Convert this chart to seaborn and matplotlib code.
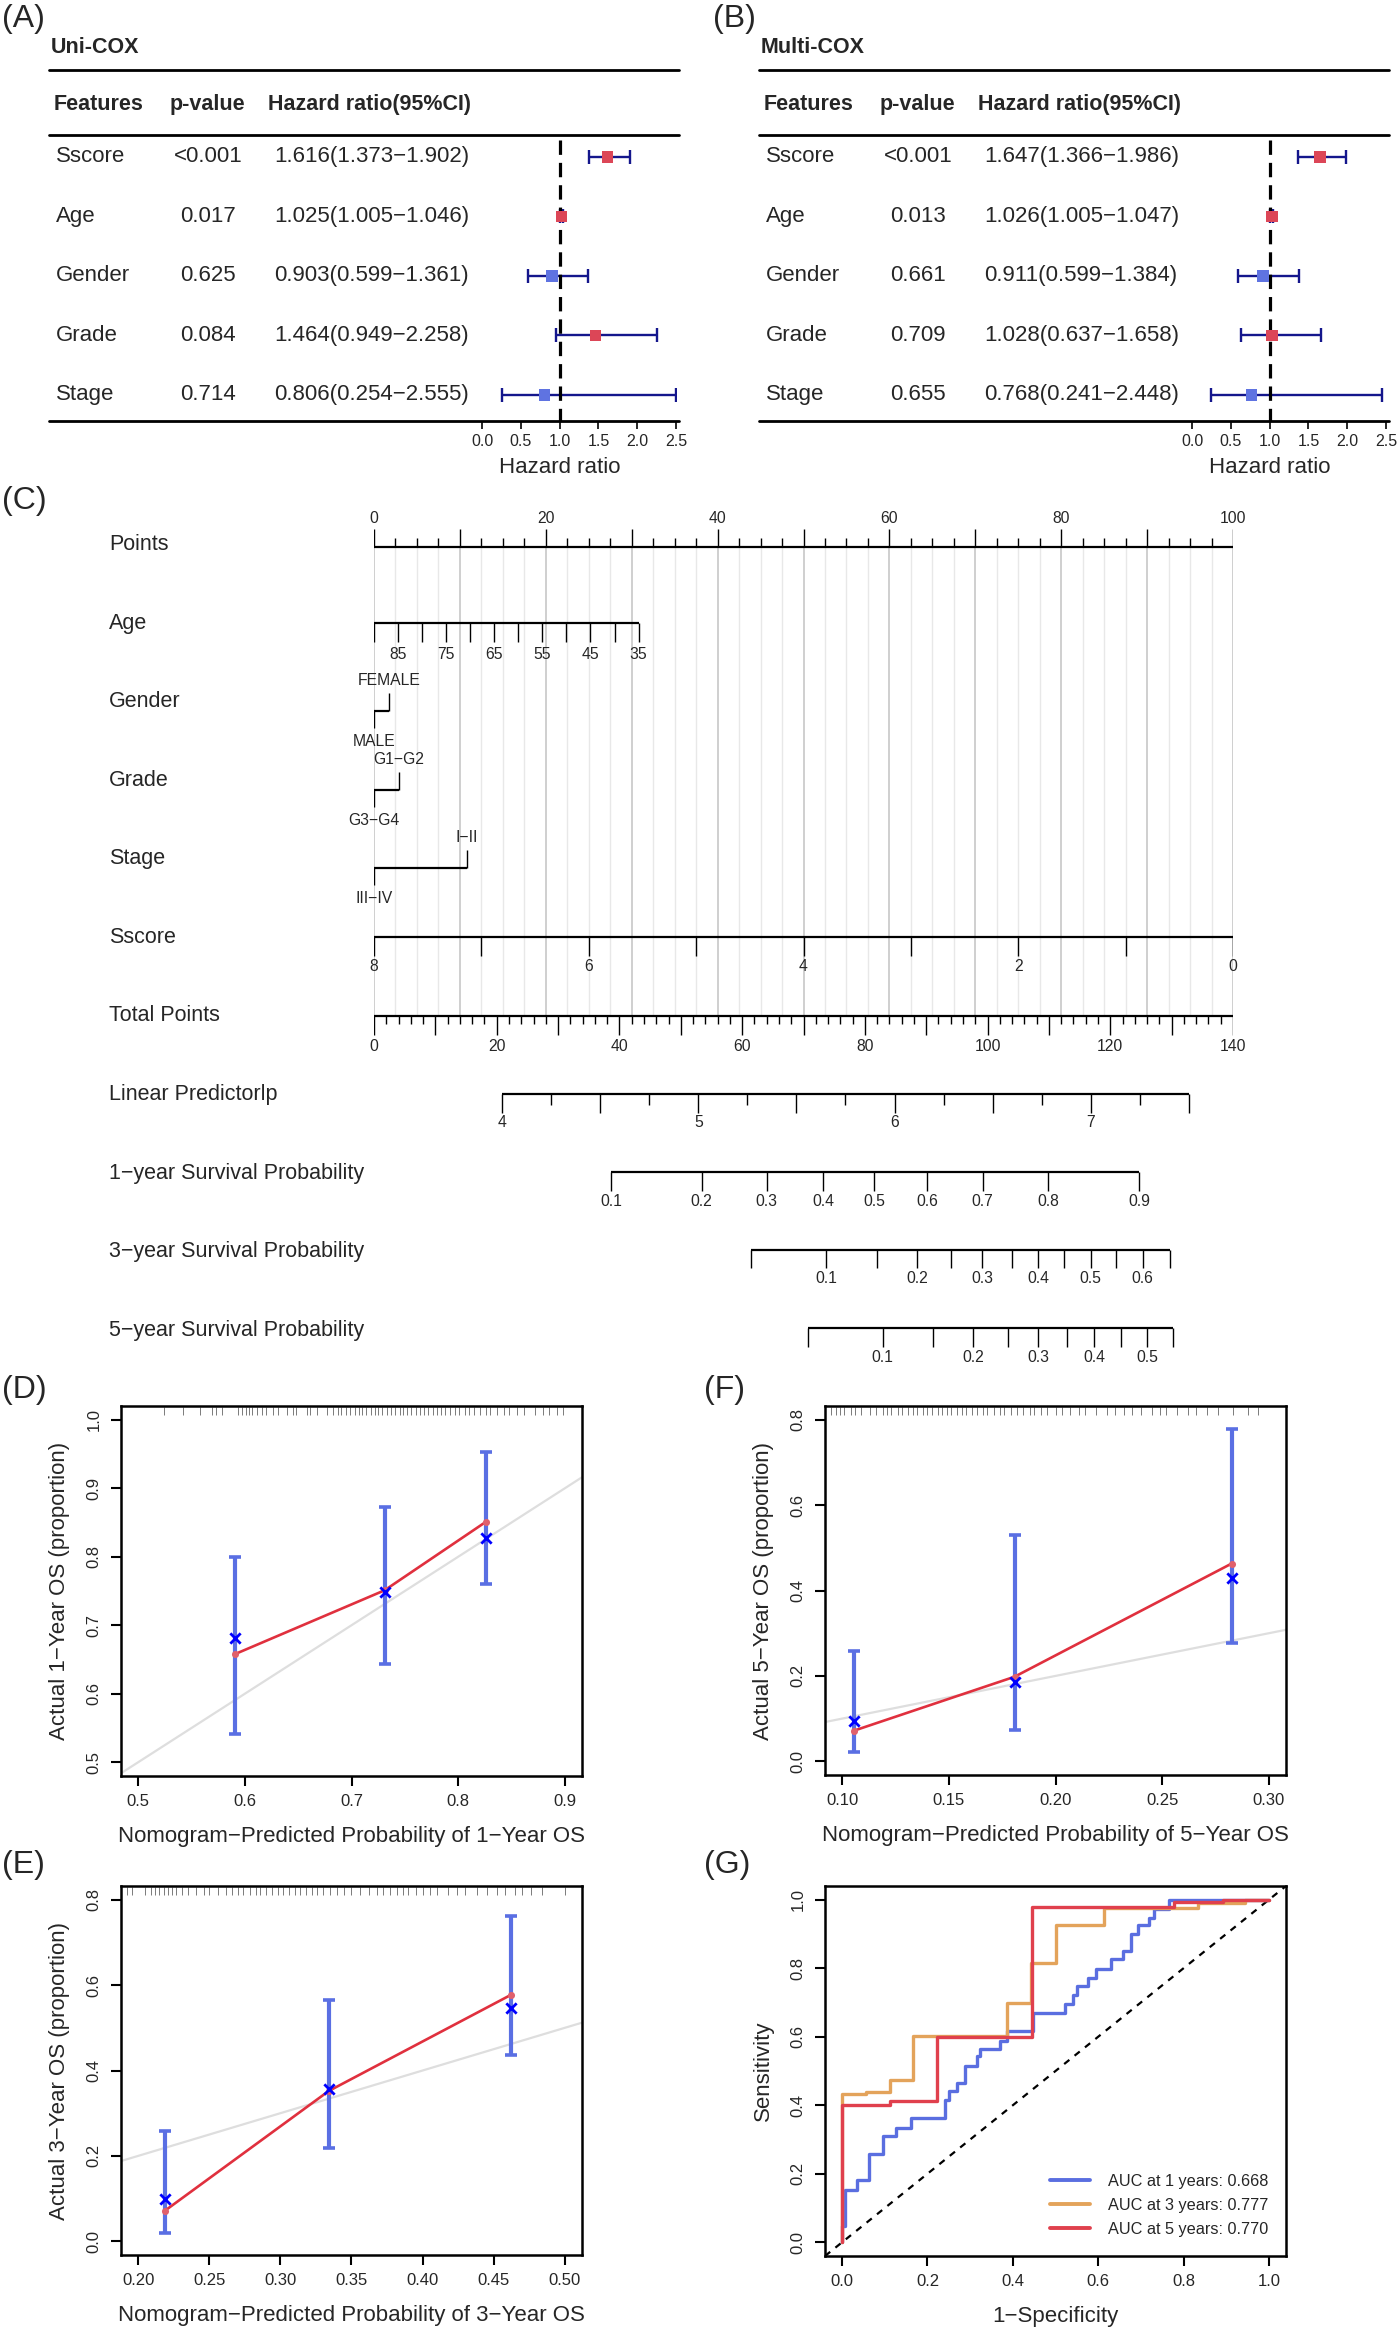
import numpy as np
import pandas as pd
import matplotlib
matplotlib.use("Agg")
import matplotlib.pyplot as plt
import seaborn as sns

# ---------------------------------------------------------------- data
features = ["Sscore", "Age", "Gender", "Grade", "Stage"]
uni_p = ["<0.001", "0.017", "0.625", "0.084", "0.714"]
uni_hr = [1.616, 1.025, 0.903, 1.464, 0.806]
uni_lo = [1.373, 1.005, 0.599, 0.949, 0.254]
uni_hi = [1.902, 1.046, 1.361, 2.258, 2.555]
multi_p = ["<0.001", "0.013", "0.661", "0.709", "0.655"]
multi_hr = [1.647, 1.026, 0.911, 1.028, 0.768]
multi_lo = [1.366, 1.005, 0.599, 0.637, 0.241]
multi_hi = [1.986, 1.047, 1.384, 1.658, 2.448]
hr_ticks = [0.0, 0.5, 1.0, 1.5, 2.0, 2.5]

nomo_rows = ["Points", "Age", "Gender", "Grade", "Stage", "Sscore", "Total Points",
             "Linear Predictorlp", "1\u2212year Survival Probability",
             "3\u2212year Survival Probability", "5\u2212year Survival Probability"]
points_labels = [0, 20, 40, 60, 80, 100]
age_ticks = [90, 85, 80, 75, 70, 65, 60, 55, 50, 45, 40, 35]
age_labels = ["", "85", "", "75", "", "65", "", "55", "", "45", "", "35"]
age_ends = [35, 90]
age_pts_ends = [30.8, 0.0]
gender_levels = ["MALE", "FEMALE"]
gender_pts = [0.0, 1.8]
grade_levels = ["G3\u2212G4", "G1\u2212G2"]
grade_pts = [0.0, 2.9]
stage_levels = ["III\u2212IV", "I\u2212II"]
stage_pts = [0.0, 10.8]
sscore_ticks = [8, 7, 6, 5, 4, 3, 2, 1, 0]
sscore_labels = ["8", "", "6", "", "4", "", "2", "", "0"]
sscore_ends = [0, 8]
sscore_pts_ends = [100.0, 0.0]
total_max = 140
total_labels = [0, 20, 40, 60, 80, 100, 120, 140]
lp_ticks = [4.0, 4.25, 4.5, 4.75, 5.0, 5.25, 5.5, 5.75, 6.0, 6.25, 6.5, 6.75, 7.0, 7.25, 7.5]
lp_ends = [4.0, 7.0]
lp_total_ends = [20.9, 116.8]
s1_vals = [0.1, 0.2, 0.3, 0.4, 0.5, 0.6, 0.7, 0.8, 0.9]
s1_total = [38.6, 53.4, 64.0, 73.2, 81.5, 90.1, 99.2, 109.9, 124.7]
s1_labels = ["0.1", "0.2", "0.3", "0.4", "0.5", "0.6", "0.7", "0.8", "0.9"]
s3_vals = [0.05, 0.1, 0.15, 0.2, 0.25, 0.3, 0.35, 0.4, 0.45, 0.5, 0.55, 0.6, 0.65]
s3_total = [61.5, 73.7, 81.9, 88.5, 94.1, 99.1, 103.9, 108.2, 112.5, 116.8, 121.0, 125.3, 129.7]
s3_labels = ["", "0.1", "", "0.2", "", "0.3", "", "0.4", "", "0.5", "", "0.6", ""]
s5_vals = [0.05, 0.1, 0.15, 0.2, 0.25, 0.3, 0.35, 0.4, 0.45, 0.5, 0.55]
s5_total = [70.7, 82.9, 91.1, 97.7, 103.3, 108.3, 113.0, 117.4, 121.7, 126.0, 130.2]
s5_labels = ["", "0.1", "", "0.2", "", "0.3", "", "0.4", "", "0.5", ""]

# calibration 1-year (D)
c1_pred = [0.591, 0.731, 0.826]
c1_obs = [0.681, 0.749, 0.827]
c1_lo = [0.541, 0.643, 0.760]
c1_hi = [0.800, 0.873, 0.953]
c1_app = [0.658, 0.751, 0.851]
c1_rug = [0.524, 0.542, 0.558, 0.569, 0.573, 0.579, 0.594, 0.597, 0.601, 0.604, 0.607,
          0.611, 0.616, 0.620, 0.626, 0.631, 0.640, 0.645, 0.648, 0.658, 0.661, 0.668,
          0.677, 0.683, 0.687, 0.690, 0.695, 0.699, 0.703, 0.707, 0.710, 0.714, 0.718,
          0.722, 0.725, 0.729, 0.733, 0.737, 0.741, 0.745, 0.748, 0.752, 0.756, 0.760,
          0.764, 0.768, 0.772, 0.776, 0.780, 0.784, 0.788, 0.792, 0.797, 0.801, 0.806,
          0.810, 0.815, 0.820, 0.826, 0.830, 0.836, 0.843, 0.848, 0.855, 0.862, 0.872,
          0.879, 0.885, 0.893, 0.898]
# calibration 5-year (F)
c5_pred = [0.1057, 0.1808, 0.2825]
c5_obs = [0.094, 0.186, 0.429]
c5_lo = [0.021, 0.073, 0.276]
c5_hi = [0.258, 0.529, 0.777]
c5_app = [0.072, 0.198, 0.463]
c5_rug = [0.095, 0.097, 0.099, 0.101, 0.104, 0.106, 0.109, 0.113, 0.116, 0.119, 0.121,
          0.123, 0.126, 0.128, 0.131, 0.133, 0.135, 0.138, 0.140, 0.142, 0.145, 0.147,
          0.149, 0.151, 0.154, 0.156, 0.158, 0.161, 0.163, 0.166, 0.168, 0.171, 0.174,
          0.176, 0.179, 0.182, 0.185, 0.188, 0.190, 0.193, 0.196, 0.200, 0.203, 0.207,
          0.211, 0.214, 0.219, 0.224, 0.228, 0.232, 0.236, 0.240, 0.245, 0.249, 0.252,
          0.257, 0.262, 0.266, 0.271, 0.276, 0.283, 0.290, 0.295, 0.308]
# calibration 3-year (E)
c3_pred = [0.219, 0.334, 0.462]
c3_obs = [0.098, 0.357, 0.547]
c3_lo = [0.0195, 0.2185, 0.437]
c3_hi = [0.258, 0.564, 0.762]
c3_app = [0.072, 0.352, 0.577]
c3_rug = [0.192, 0.196, 0.205, 0.209, 0.212, 0.215, 0.218, 0.221, 0.224, 0.227, 0.231,
          0.235, 0.241, 0.246, 0.250, 0.256, 0.262, 0.266, 0.270, 0.274, 0.279, 0.283,
          0.286, 0.290, 0.294, 0.298, 0.302, 0.306, 0.310, 0.314, 0.318, 0.322, 0.326,
          0.330, 0.335, 0.340, 0.345, 0.350, 0.356, 0.362, 0.368, 0.372, 0.377, 0.382,
          0.386, 0.390, 0.395, 0.400, 0.405, 0.410, 0.418, 0.424, 0.430, 0.438, 0.445,
          0.452, 0.458, 0.465, 0.470, 0.476, 0.484, 0.500, 0.513]

# ROC (G): step vertices (fpr, tpr), drawn as steps-post
roc1_fpr = [0, 0, 0.008, 0.035, 0.063, 0.097, 0.126, 0.162, 0.242, 0.250, 0.270, 0.289,
            0.317, 0.324, 0.369, 0.387, 0.448, 0.523, 0.542, 0.550, 0.576, 0.594, 0.631,
            0.657, 0.676, 0.694, 0.720, 0.730, 0.765, 1.0]
roc1_tpr = [0, 0.049, 0.153, 0.181, 0.259, 0.310, 0.335, 0.362, 0.415, 0.443, 0.466,
            0.515, 0.543, 0.565, 0.589, 0.616, 0.670, 0.697, 0.722, 0.748, 0.772, 0.799,
            0.826, 0.850, 0.899, 0.926, 0.948, 0.973, 1.0, 1.0]
roc3_fpr = [0, 0, 0.055, 0.113, 0.167, 0.387, 0.442, 0.500, 0.613, 0.835, 0.945, 1.0]
roc3_tpr = [0, 0.432, 0.440, 0.474, 0.601, 0.699, 0.816, 0.927, 0.975, 0.989, 1.0, 1.0]
roc5_fpr = [0, 0, 0.113, 0.223, 0.446, 0.777, 0.892, 1.0]
roc5_tpr = [0, 0.401, 0.411, 0.599, 0.979, 0.992, 1.0, 1.0]
roc_labels = ["AUC at 1 years: 0.668", "AUC at 3 years: 0.777", "AUC at 5 years: 0.770"]

# ---------------------------------------------------------------- style
sns.set_theme(style="white")
plt.rcParams["font.family"] = ["Liberation Sans", "DejaVu Sans"]
plt.rcParams["axes.unicode_minus"] = True

NAVY = "#14168c"
RED_SQ = "#dc4657"
BLUE_SQ = "#5f73e1"
EB_BLUE = "#5a6fe3"
LINE_RED = "#e0303e"
PT_RED = "#e0606c"
ROC_COLS = ["#5a6ee0", "#e3a35b", "#e0404d"]

W, H = 1400, 2327
fig = plt.figure(figsize=(W / 100, H / 100), dpi=100)
fig.patch.set_facecolor("white")


def px_axes(l, t, r, b):
    return fig.add_axes([l / W, 1 - b / H, (r - l) / W, (b - t) / H])


def panel_label(x, y, s):
    fig.text(x / W, 1 - y / H, s, ha="left", va="center", fontsize=23)


# ---------------------------------------------------------------- A / B forest
def forest_panel(x0, title, p, hr, lo, hi):
    rows = np.arange(len(features))
    hr = np.array(hr); lo = np.array(lo); hi = np.array(hi)
    tab = px_axes(x0, 20, x0 + 630, 421)
    tab.set_xlim(0, 630)
    tab.set_ylim(4.437, -2.30)
    tab.axis("off")
    tab.text(2, -1.83, title, fontsize=15.5, fontweight="bold", ha="left", va="center")
    for yl in (-1.46, -0.37, 4.437):
        tab.axhline(yl, color="black", lw=2.0, clip_on=False)
    for xx, s in ((5, "Features"), (121, "p-value"), (219, "Hazard ratio(95%CI)")):
        tab.text(xx, -0.874, s, fontsize=15.5, fontweight="bold", ha="left", va="center")
    for i in rows:
        tab.text(7, i, features[i], fontsize=16, ha="left", va="center")
        tab.text(159, i, p[i], fontsize=16, ha="center", va="center")
        tab.text(225, i, f"{hr[i]:.3f}({lo[i]:.3f}\u2212{hi[i]:.3f})",
                 fontsize=16, ha="left", va="center")

    fa = px_axes(x0 + 433, 20, x0 + 627, 421)
    fa.patch.set_alpha(0)
    hi_c = np.minimum(hi, 2.5)
    fa.errorbar(hr, rows, xerr=[hr - lo, hi_c - hr], fmt="none", ecolor=NAVY,
                elinewidth=1.7, capsize=4.7, capthick=1.7, zorder=2)
    fa.vlines(1.0, -0.29, 4.437, colors="black", lw=2.3,
              linestyles=[(0, (4.5, 2.5))], zorder=3)
    df = pd.DataFrame({"hr": hr, "row": rows,
                       "dir": ["up" if h > 1 else "down" for h in hr]})
    sns.scatterplot(data=df, x="hr", y="row", hue="dir",
                    palette={"up": RED_SQ, "down": BLUE_SQ}, marker="s", s=72,
                    linewidth=0, legend=False, ax=fa, zorder=4)
    fa.set_xlim(0, 2.5)
    fa.set_ylim(4.437, -2.30)
    fa.set_xlabel("")
    fa.set_ylabel("")
    for s in fa.spines.values():
        s.set_visible(False)
    fa.set_yticks([])
    fa.set_xticks(hr_ticks)
    fa.set_xticklabels([f"{t:.1f}" for t in hr_ticks])
    fa.tick_params(axis="x", bottom=True, direction="out", length=6, width=1.2,
                   color="black", labelsize=11.5, pad=3)
    fa.text(1.0, 5.21, "Hazard ratio", ha="center", va="center", fontsize=16,
            clip_on=False)


forest_panel(49, "Uni-COX", uni_p, uni_hr, uni_lo, uni_hi)
forest_panel(759, "Multi-COX", multi_p, multi_hr, multi_lo, multi_hi)
panel_label(2, 19, "(A)")
panel_label(713, 19, "(B)")

# ---------------------------------------------------------------- C nomogram
nomo = px_axes(374, 490, 1233, 1375)
nomo.set_xlim(0, 100)
nomo.set_ylim(10.573, -0.70)
nomo.axis("off")

TFS = 11.3


def hline(y, x0, x1):
    nomo.plot([x0, x1], [y, y], color="black", lw=1.6, solid_capstyle="butt", zorder=3)


def ticks(xs, y0, y1):
    nomo.vlines(xs, y0, y1, colors="black", lw=1.0, zorder=3)


def labels(xs, y, labs):
    for x, s in zip(xs, labs):
        if s != "":
            nomo.text(x, y, s, ha="center", va="center", fontsize=TFS)


def to_pts(total):
    return np.asarray(total, dtype=float) * 100.0 / total_max


# grid
grid_x = np.arange(0, 100.01, 2.5)
major = np.isclose(np.mod(grid_x, 10), 0)
nomo.vlines(grid_x[~major], 0.025, 6.0, colors="#e8e8e8", lw=1.0, zorder=0)
nomo.vlines(grid_x[major], 0.025, 6.0, colors="#c2c2c2", lw=1.1, zorder=0)

for i, name in enumerate(nomo_rows):
    nomo.text(-30.85, i, name, ha="left", va="center", fontsize=15.5)

# Points (ticks up)
hline(0.025, 0, 100)
ticks(grid_x[major], 0.025, 0.025 - 0.23)
ticks(grid_x[~major], 0.025, 0.025 - 0.115)
labels(points_labels, -0.335, [str(v) for v in points_labels])

# Age
age_pts = np.interp(age_ticks, age_ends, age_pts_ends)
hline(1.0, age_pts.min(), age_pts.max())
ticks(age_pts, 1.0, 1.24)
labels(age_pts, 1.40, age_labels)


def cat_axis(row, levels, pts):
    y = row + 0.117
    hline(y, min(pts), max(pts))
    for lev, p in zip(levels, pts):
        if p == 0:
            ticks([p], y, y + 0.22)
            labels([p], y + 0.39, [lev])
        else:
            ticks([p], y, y - 0.23)
            labels([p], y - 0.39, [lev])


cat_axis(2, gender_levels, gender_pts)
cat_axis(3, grade_levels, grade_pts)
cat_axis(4, stage_levels, stage_pts)

# Sscore
ss_pts = np.interp(sscore_ticks, sscore_ends, sscore_pts_ends)
hline(4.99, 0, 100)
ticks(ss_pts, 4.99, 5.23)
labels(ss_pts, 5.37, sscore_labels)

# Total points
tot_ticks = np.arange(0, total_max + 0.01, 2)
tot_long = np.isclose(np.mod(tot_ticks, 10), 0)
hline(6.0, 0, 100)
ticks(to_pts(tot_ticks[tot_long]), 6.0, 6.245)
ticks(to_pts(tot_ticks[~tot_long]), 6.0, 6.10)
labels(to_pts(total_labels), 6.39, [str(v) for v in total_labels])

# Linear predictor
slope = (lp_total_ends[1] - lp_total_ends[0]) / (lp_ends[1] - lp_ends[0])
lp_arr = np.array(lp_ticks)
lp_pts = to_pts(lp_total_ends[0] + (lp_arr - lp_ends[0]) * slope)
lp_long = np.isclose(np.mod(lp_arr, 0.5), 0)
lp_int = np.isclose(np.mod(lp_arr, 1), 0)
hline(6.995, lp_pts.min(), lp_pts.max())
ticks(lp_pts[lp_long], 6.995, 7.235)
ticks(lp_pts[~lp_long], 6.995, 7.135)
labels(lp_pts[lp_int], 7.36, [str(int(v)) for v in lp_arr[lp_int]])

# Survival probabilities
for row, tot, labs in ((7.99, s1_total, s1_labels), (8.98, s3_total, s3_labels),
                       (9.975, s5_total, s5_labels)):
    pp = to_pts(tot)
    hline(row, pp.min(), pp.max())
    ticks(pp, row, row + 0.235)
    labels(pp, row + 0.37, labs)

panel_label(2, 501, "(C)")


# ---------------------------------------------------------------- calibration
def style_box(ax, xticks, yticks, xfmt, yfmt, xlabel, ylabel):
    for s in ax.spines.values():
        s.set_visible(True)
        s.set_linewidth(1.8)
        s.set_color("black")
    ax.set_xticks(xticks)
    ax.set_xticklabels([xfmt.format(t) for t in xticks])
    ax.set_yticks(yticks)
    ax.set_yticklabels([yfmt.format(t) for t in yticks], rotation=90, va="center")
    ax.tick_params(axis="both", direction="out", length=7, width=1.5, color="black",
                   labelsize=12, bottom=True, left=True)
    ax.tick_params(axis="x", pad=6)
    ax.tick_params(axis="y", pad=7)
    ax.set_xlabel(xlabel, fontsize=16, labelpad=12)
    ax.set_ylabel(ylabel, fontsize=16, labelpad=12)


def calib_panel(box, pred, obs, lo, hi, app, rug, xlim, ylim, xticks, yticks,
                xfmt, yfmt, xlabel, ylabel):
    ax = px_axes(*box)
    pred = np.array(pred); obs = np.array(obs); lo = np.array(lo); hi = np.array(hi)
    ax.axline((0, 0), slope=1, color="#dedede", lw=1.6, zorder=1)
    ax.vlines(rug, 0.976, 0.996, transform=ax.get_xaxis_transform(),
              colors="#7a7a7a", lw=0.7, zorder=1)
    ax.errorbar(pred, obs, yerr=[obs - lo, hi - obs], fmt="none", ecolor=EB_BLUE,
                elinewidth=3.0, capsize=4, capthick=2.6, zorder=2)
    sns.lineplot(x=pred, y=app, color=LINE_RED, lw=1.9, sort=False, estimator=None,
                 ax=ax, zorder=3)
    sns.scatterplot(x=pred, y=app, color=PT_RED, s=26, linewidth=0, ax=ax, zorder=4)
    sns.scatterplot(x=pred, y=obs, marker="x", color="#0000ff", s=55, linewidth=2.0,
                    ax=ax, zorder=5)
    ax.set_xlim(xlim)
    ax.set_ylim(ylim)
    style_box(ax, xticks, yticks, xfmt, yfmt, xlabel, ylabel)
    return ax


calib_panel((121, 1406, 582, 1776), c1_pred, c1_obs, c1_lo, c1_hi, c1_app, c1_rug,
            (0.484, 0.916), (0.48, 1.02), [0.5, 0.6, 0.7, 0.8, 0.9],
            [0.5, 0.6, 0.7, 0.8, 0.9, 1.0], "{:.1f}", "{:.1f}",
            "Nomogram\u2212Predicted Probability of 1\u2212Year OS",
            "Actual 1\u2212Year OS (proportion)")
calib_panel((825, 1406, 1286, 1775), c5_pred, c5_obs, c5_lo, c5_hi, c5_app, c5_rug,
            (0.092, 0.308), (-0.032, 0.832), [0.10, 0.15, 0.20, 0.25, 0.30],
            [0.0, 0.2, 0.4, 0.6, 0.8], "{:.2f}", "{:.1f}",
            "Nomogram\u2212Predicted Probability of 5\u2212Year OS",
            "Actual 5\u2212Year OS (proportion)")
calib_panel((121, 1886, 582, 2255), c3_pred, c3_obs, c3_lo, c3_hi, c3_app, c3_rug,
            (0.188, 0.512), (-0.032, 0.832), [0.20, 0.25, 0.30, 0.35, 0.40, 0.45, 0.50],
            [0.0, 0.2, 0.4, 0.6, 0.8], "{:.2f}", "{:.1f}",
            "Nomogram\u2212Predicted Probability of 3\u2212Year OS",
            "Actual 3\u2212Year OS (proportion)")
panel_label(2, 1390, "(D)")
panel_label(704, 1390, "(F)")
panel_label(2, 1865, "(E)")

# ---------------------------------------------------------------- ROC
axg = px_axes(825, 1886, 1286, 2256)
axg.axline((0, 0), slope=1, color="black", lw=1.6, ls=(0, (3, 3)), zorder=1)
for fpr, tpr, col, lab in ((roc1_fpr, roc1_tpr, ROC_COLS[0], roc_labels[0]),
                           (roc3_fpr, roc3_tpr, ROC_COLS[1], roc_labels[1]),
                           (roc5_fpr, roc5_tpr, ROC_COLS[2], roc_labels[2])):
    sns.lineplot(x=fpr, y=tpr, drawstyle="steps-post", sort=False, estimator=None,
                 color=col, lw=2.4, label=lab, ax=axg, zorder=2)
axg.set_xlim(-0.04, 1.04)
axg.set_ylim(-0.04, 1.04)
style_box(axg, [0.0, 0.2, 0.4, 0.6, 0.8, 1.0], [0.0, 0.2, 0.4, 0.6, 0.8, 1.0],
          "{:.1f}", "{:.1f}", "1\u2212Specificity", "Sensitivity")
leg = axg.legend(loc="lower right", bbox_to_anchor=(0.975, 0.035), borderaxespad=0,
                 frameon=False, fontsize=11.7, handlelength=2.45, handletextpad=1.1,
                 labelspacing=0.55)
for ln in leg.get_lines():
    ln.set_linewidth(2.8)
panel_label(704, 1865, "(G)")

fig.savefig("out.png", dpi=100, facecolor="white")
